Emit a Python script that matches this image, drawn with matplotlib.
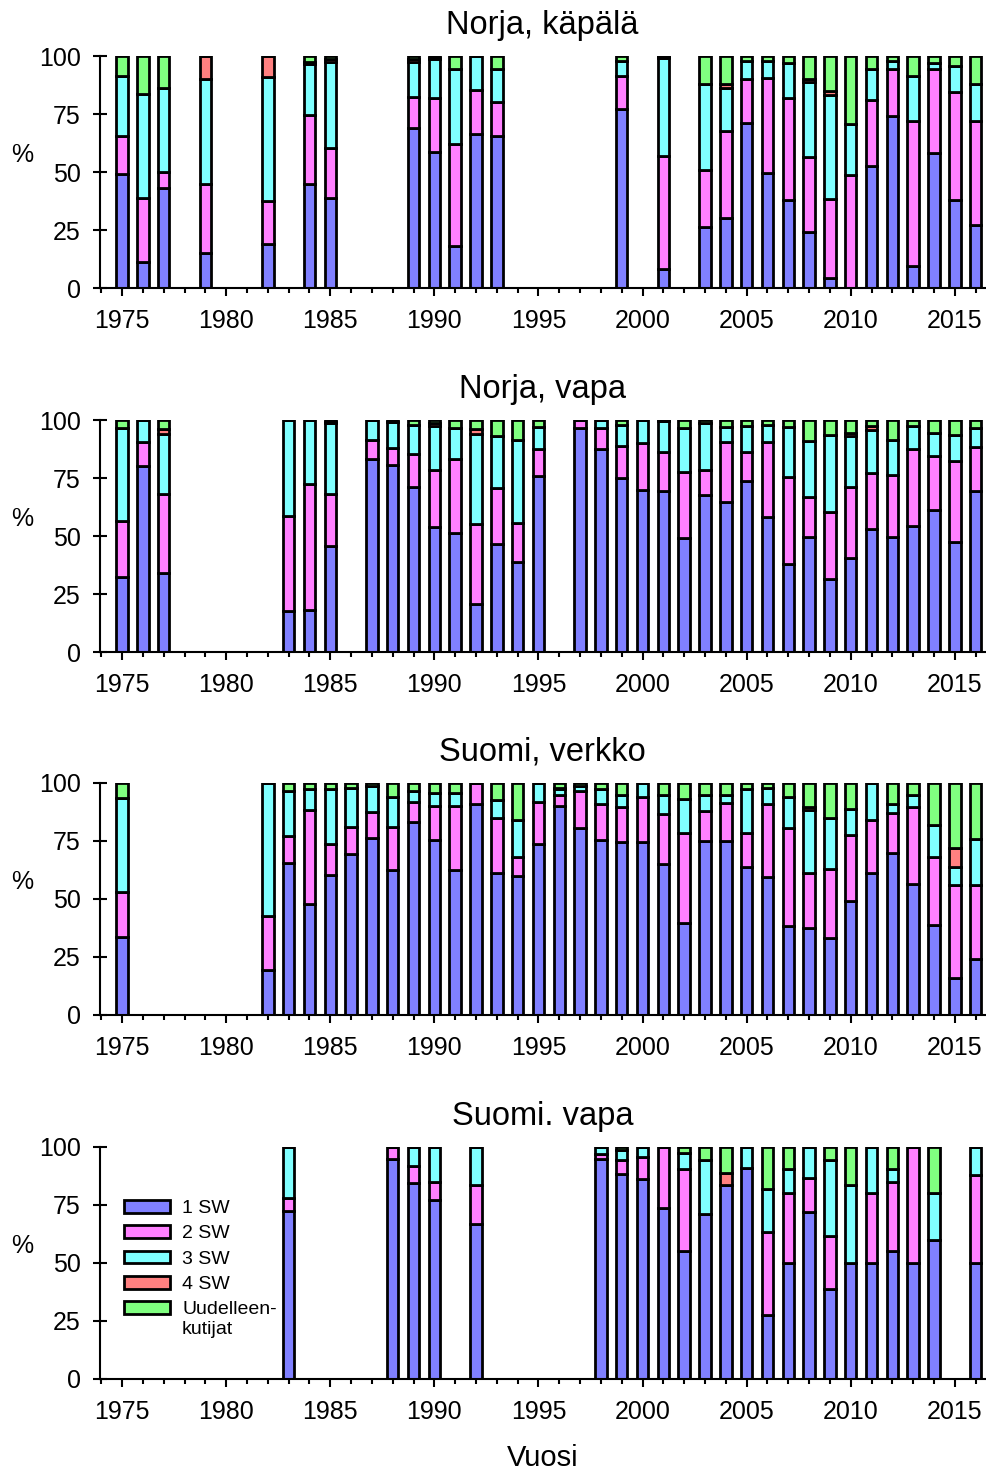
import numpy as np
import matplotlib
matplotlib.use("Agg")
from matplotlib import pyplot as plt
from matplotlib.ticker import MultipleLocator

plt.rcParams['font.family'] = ['Liberation Sans', 'DejaVu Sans']

labels = ["1 SW", "2 SW", "3 SW", "4 SW", "Uudelleen-"]
colors = ["#8080ff", "#ff80ff", "#80ffff", "#ff8080", "#80ff80"]

# Norja, käpälä
nk_years = [1975, 1976, 1977, 1979, 1982, 1984, 1985, 1989, 1990, 1991, 1992, 1993, 1999, 2001,
            2003, 2004, 2005, 2006, 2007, 2008, 2009, 2010, 2011, 2012, 2013, 2014, 2015, 2016]
nk_sw1 = [49, 11, 43, 15, 19, 45, 39, 69, 58.5, 18, 66.5, 65.5, 77, 8,
          26.5, 30, 71, 49.5, 38, 24, 4.5, 0, 52.5, 74, 9.5, 58, 38, 27]
nk_sw2 = [16.5, 28, 7, 30, 18.5, 29.5, 21.5, 13.5, 23.5, 44, 19, 14.5, 14.5, 49,
          24.5, 37.5, 19, 41, 44, 32.5, 34, 48.5, 28.5, 20.5, 62.5, 36.5, 46.5, 45]
nk_sw3 = [26, 44.5, 36, 45, 53.5, 22, 37, 15, 16.5, 32.5, 14.5, 14.5, 6.5, 42,
          37, 18.5, 8, 7.5, 15, 32.5, 44.5, 22, 13.5, 3.5, 19.5, 2.5, 11, 16]
nk_sw4 = [0, 0, 0, 10, 9, 1, 1, 1, 0.5, 0, 0, 0, 0, 0.5,
          0, 2, 0, 0, 0, 1, 2, 0, 0, 0, 0, 0, 0, 0]
nk_rep = [8.5, 16.5, 14, 0, 0, 2.5, 1.5, 1.5, 1, 5.5, 0, 5.5, 2, 0.5,
          12, 12, 2, 2, 3, 10, 15, 29.5, 5.5, 2, 8.5, 3, 4.5, 12]

# Norja, vapa
nv_years = [1975, 1976, 1977, 1983, 1984, 1985, 1987, 1988, 1989, 1990, 1991, 1992, 1993, 1994, 1995,
            1997, 1998, 1999, 2000, 2001, 2002, 2003, 2004, 2005, 2006, 2007, 2008, 2009, 2010,
            2011, 2012, 2013, 2014, 2015, 2016]
nv_sw1 = [32.5, 80, 34, 17.5, 18, 45.5, 83, 80.5, 71, 54, 51.5, 20.5, 46.5, 39, 76,
          96.5, 87.5, 75, 70, 69.5, 49, 67.5, 64.5, 73.5, 58, 38, 49.5, 31.5, 40.5,
          53, 49.5, 54.5, 61, 47.5, 69.5]
nv_sw2 = [24, 10.5, 34, 41, 54.5, 22.5, 8.5, 7.5, 14.5, 24.5, 31.5, 34.5, 24, 16.5, 11.5,
          3.5, 9, 14, 20, 16.5, 28.5, 11, 26, 12.5, 32.5, 37.5, 17.5, 29, 30.5,
          24, 27, 33, 23.5, 35, 19]
nv_sw3 = [40, 9.5, 26, 41.5, 27.5, 30.5, 8.5, 11, 12.5, 19, 13.5, 39, 22.5, 36, 9.5,
          0, 3.5, 9, 10, 13.5, 19, 20, 6.5, 11.5, 7.5, 21.5, 24, 33, 22,
          18.5, 15, 10, 10, 11, 8]
nv_sw4 = [0, 0, 2, 0, 0, 0.5, 0, 0, 0, 1, 0, 2, 0, 0, 0,
          0, 0, 0, 0, 0, 0, 0, 0, 0, 0, 0, 0, 0, 1.5,
          2, 0, 0, 0, 0, 0]
nv_rep = [3.5, 0, 4, 0, 0, 1, 0, 1, 2, 1.5, 3.5, 4, 7, 8.5, 3,
          0, 0, 2, 0, 0.5, 3.5, 1.5, 3, 2.5, 2, 3, 9, 6.5, 5.5,
          2.5, 8.5, 2.5, 5.5, 6.5, 3.5]

# Suomi, verkko
sv_years = [1975] + list(range(1982, 2017))
sv_sw1 = [33.5, 19.5, 65.5, 48, 60.5, 69.5, 76.5, 62.5, 83, 75.5, 62.5, 91, 61, 60, 73.5,
          90, 80.5, 75.5, 74.5, 74.5, 65, 39.5, 75, 75, 64, 59.5, 38.5, 37.5, 33, 49,
          61, 70, 56.5, 39, 16, 24]
sv_sw2 = [19.5, 23, 11.5, 40.5, 13, 11.5, 11, 18.5, 9, 14.5, 27.5, 9, 24, 8, 18.5,
          5, 16, 15.5, 15, 19.5, 21.5, 39, 13, 16.5, 14.5, 31.5, 42, 23.5, 30, 28.5,
          23, 17, 33, 29, 40, 32]
sv_sw3 = [40.5, 57.5, 19.5, 9, 24, 17, 11, 13, 4.5, 5.5, 5.5, 0, 7.5, 16, 8,
          2.5, 2, 6.5, 5.5, 6, 8.5, 14.5, 7, 3.5, 19, 7, 13.5, 27.5, 22, 11.5,
          16, 4, 5.5, 14, 8, 20]
sv_sw4 = [0, 0, 0, 0, 0, 0, 0, 0, 0, 0, 0, 0, 0, 0, 0,
          0.5, 0, 0, 0, 0, 0, 0, 0, 0, 0, 0, 0, 1, 0, 0,
          0, 0, 0, 0, 8, 0]
sv_rep = [6.5, 0, 3.5, 2.5, 2.5, 2, 1.5, 6, 3.5, 4.5, 4.5, 0, 7.5, 16, 0,
          2, 1.5, 2.5, 5, 0, 5, 7, 5, 5, 2.5, 2, 6, 10.5, 15, 11,
          0, 9, 5, 18, 28, 24]

# Suomi. vapa
su_years = [1983, 1988, 1989, 1990, 1992, 1998, 1999, 2000, 2001, 2002, 2003, 2004, 2005,
            2006, 2007, 2008, 2009, 2010, 2011, 2012, 2013, 2014, 2016]
su_sw1 = [72.5, 95, 84.5, 77, 67, 95, 88.5, 86, 73.5, 55, 71, 83.5, 91,
          27.5, 50, 72, 39, 50, 50, 55, 50, 60, 50]
su_sw2 = [5.5, 5, 7.5, 8, 16.5, 2, 6, 9.5, 26.5, 35.5, 0, 0, 0,
          36, 30, 14.5, 22.5, 0, 30, 30, 50, 0, 38]
su_sw3 = [22, 0, 8, 15, 16.5, 3, 4, 4.5, 0, 7, 23.5, 0, 9,
          18.5, 10.5, 13.5, 33, 33.5, 20, 5.5, 0, 20, 12]
su_sw4 = [0, 0, 0, 0, 0, 0, 0, 0, 0, 0, 0, 5.5, 0,
          0, 0, 0, 0, 0, 0, 0, 0, 0, 0]
su_rep = [0, 0, 0, 0, 0, 0, 1.5, 0, 0, 2.5, 5.5, 11, 0,
          18, 9.5, 0, 5.5, 16.5, 0, 9.5, 0, 20, 0]

panels = [
    ("Norja, käpälä", nk_years, [nk_sw1, nk_sw2, nk_sw3, nk_sw4, nk_rep]),
    ("Norja, vapa", nv_years, [nv_sw1, nv_sw2, nv_sw3, nv_sw4, nv_rep]),
    ("Suomi, verkko", sv_years, [sv_sw1, sv_sw2, sv_sw3, sv_sw4, sv_rep]),
    ("Suomi. vapa", su_years, [su_sw1, su_sw2, su_sw3, su_sw4, su_rep]),
]

W, H = 987, 1474
fig = plt.figure(figsize=(W / 100, H / 100), dpi=100)

# axes bottoms in pixels (y=0 line)
bottoms_px = [288, 652, 1015, 1379]
axes = []
for (title, years, series), yb in zip(panels, bottoms_px):
    ax = fig.add_axes([100 / W, 1 - yb / H, 885 / W, 232 / H])
    axes.append(ax)
    bottom = np.zeros(len(years))
    for vals, col, lab in zip(series, colors, labels):
        ax.bar(years, vals, width=0.55, bottom=bottom, color=col,
               edgecolor='black', linewidth=2.0, label=lab)
        bottom += np.array(vals, dtype=float)

    ax.set_xlim(1973.94, 2016.45)
    ax.set_ylim(0, 100)
    ax.set_yticks([0, 25, 50, 75, 100])
    ax.xaxis.set_major_locator(MultipleLocator(5))
    ax.xaxis.set_minor_locator(MultipleLocator(1))
    ax.spines['top'].set_visible(False)
    ax.spines['right'].set_visible(False)
    ax.spines['left'].set_linewidth(1.5)
    ax.spines['bottom'].set_linewidth(1.5)
    ax.tick_params(axis='y', direction='inout', length=9.5, width=1.5, labelsize=18, pad=9)
    ax.tick_params(axis='x', which='major', direction='out', length=6, width=1.5, labelsize=18, pad=9)
    ax.tick_params(axis='x', which='minor', direction='out', length=3.5, width=1.5)
    ax.set_title(title, fontsize=23.5, pad=16)
    ax.set_ylabel("%", fontsize=18, rotation=0, va='center', ha='center')
    ax.yaxis.set_label_coords(-0.088, 0.575)

# legend in the last panel
ax = axes[-1]
leg = ax.legend(loc='upper left', bbox_to_anchor=(0.018, 0.805), frameon=False,
                fontsize=14, handlelength=2.4, handleheight=0.62,
                handletextpad=0.6, labelspacing=0.42, borderaxespad=0)
fig.canvas.draw()
last = leg.get_texts()[-1].get_window_extent()
x0, y0 = fig.transFigure.inverted().transform((last.x0, last.y0))
fig.text(x0, y0 - 0.002, "kutijat", fontsize=14, ha='left', va='top')

fig.text(542.5 / W, 1 - 1458 / H, "Vuosi", fontsize=21, ha='center', va='center')

fig.savefig("out.png", dpi=100)
